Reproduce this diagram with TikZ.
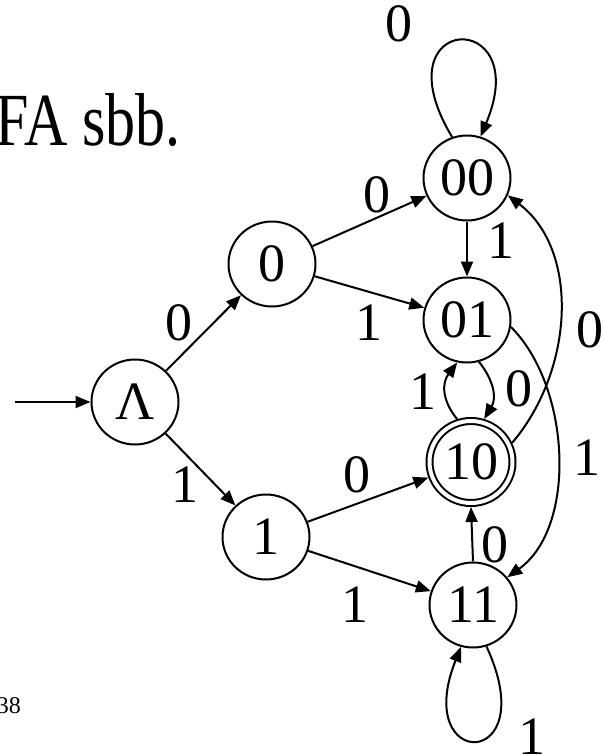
\documentclass[tikz,border=0pt]{standalone}
\usepackage{fontspec}
\setmainfont{Liberation Serif}
\usetikzlibrary{arrows.meta,shapes.geometric}
\begin{document}
\begin{tikzpicture}[x=1pt,y=-1pt,
  state/.style={ellipse,draw,line width=2pt,minimum width=87pt,minimum height=85pt,inner sep=0pt,font=\fontsize{54}{54}\selectfont},
  accstate/.style={state,double,double distance=4pt,minimum width=83pt,minimum height=82pt,outer sep=4pt},
  edge/.style={line width=2pt,-{Triangle[length=15pt,width=12pt]}},
  lab/.style={font=\fontsize{54}{54}\selectfont,inner sep=0pt}]
\useasboundingbox (0,0) rectangle (604,755);
% title and page number
\node[anchor=base east,inner sep=0pt,font=\fontsize{60}{60}\selectfont] (title) at (181,145) {\scalebox{1}[1.25]{FA sbb.}};
\node[anchor=base east,inner sep=0pt,font=\fontsize{24}{24}\selectfont] (page) at (21,713) {38};
% states
\node[state] (L) at (135,402) {Λ};
\node[state] (q0) at (272,264) {0};
\node[state] (q1) at (266,537) {1};
\node[state] (q00) at (467,178) {00};
\node[state] (q01) at (467,320) {01};
\node[accstate] (q10) at (471,462) {10};
\node[state] (q11) at (473,605) {11};
\coordinate (s) at (15,402);
% edges
\draw[edge] (s) -- (L);
\draw[edge] (L) -- (q0);
\draw[edge] (L) -- (q1);
\draw[edge] (q0) -- (q00);
\draw[edge] (q0) -- (q01);
\draw[edge] (q1) -- (q10);
\draw[edge] (q1) -- (q11);
\draw[edge] (q00) -- (q01);
\draw[edge] (q11.north) -- (q10.south);
\draw[edge] (q01.-74) .. controls +(16,20) and +(12,-20) .. (q10.73);
\draw[edge] (q10.108) .. controls +(-16,-20) and +(-15,20) .. (q01.-103);
\draw[edge] (q10.25) .. controls +(62,-73) and +(72,55) .. (q00.-23);
\draw[edge] (q01.-9) .. controls +(60,60) and +(70,-50) .. (q11.39);
\draw[edge] (q00.110) .. controls +(-75,-125) and +(55,-130) .. (q00.72);
\draw[edge] (q11.-72) .. controls +(58,125) and +(-50,125) .. (q11.-106);
% labels
\node[lab] (l1) at (179,323) {0};
\node[lab] (l2) at (185,485) {1};
\node[lab] (l3) at (377,195) {0};
\node[lab] (l4) at (369,323) {1};
\node[lab] (l5) at (357,475) {0};
\node[lab] (l6) at (355,605) {1};
\node[lab] (l7) at (501,241) {1};
\node[lab] (l8) at (423,392) {1};
\node[lab] (l9) at (519,389) {0};
\node[lab] (l10) at (590,330) {0};
\node[lab] (l11) at (587,458) {1};
\node[lab] (l12) at (495,545) {0};
\node[lab] (l13) at (399,24) {0};
\node[lab] (l14) at (532,737) {1};
\end{tikzpicture}
\end{document}
